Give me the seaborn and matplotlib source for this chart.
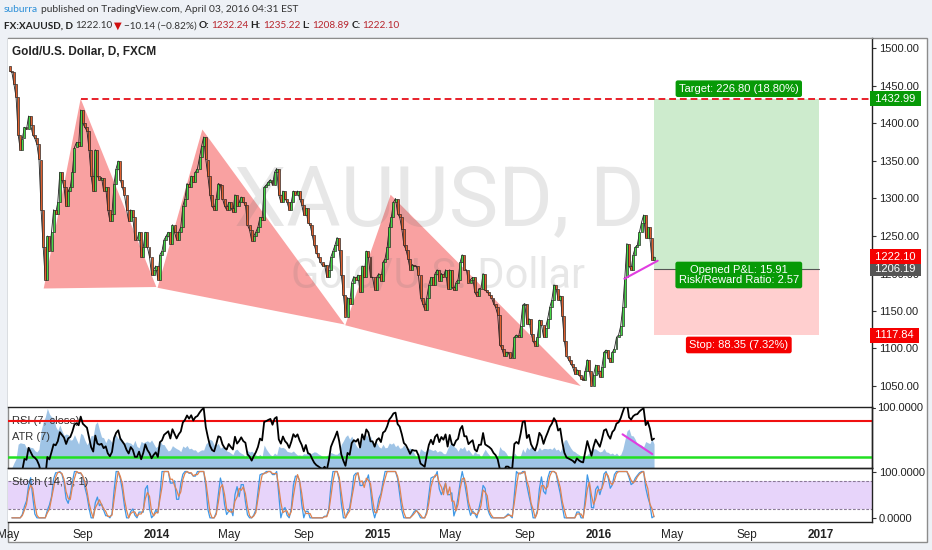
import numpy as np
import pandas as pd
import matplotlib
matplotlib.use('Agg')
import matplotlib.pyplot as plt
import matplotlib.dates as mdates
import matplotlib.transforms as mtransforms
from matplotlib.patches import Rectangle
import seaborn as sns

# half-week closes (May 2013 .. Apr 2016)
close_2013 = [1470, 1468, 1452, 1435, 1385, 1365, 1380, 1395, 1392,
              1410, 1398, 1385, 1380, 1372, 1352, 1285, 1235, 1192,
              1250, 1230, 1255, 1285, 1280, 1295, 1335, 1325, 1315,
              1290, 1310, 1315, 1335, 1368, 1375, 1370, 1418, 1400,
              1395, 1390, 1365, 1330, 1310, 1365, 1330, 1325, 1328,
              1310, 1315, 1285, 1270, 1280, 1320, 1340, 1350, 1325,
              1315, 1305, 1285, 1270, 1285, 1275, 1245, 1245, 1255,
              1222, 1235, 1255, 1235, 1222, 1198, 1205, 1210, 1192]
close_2014 = [1225, 1230, 1245, 1250, 1255, 1240, 1265, 1255, 1245,
              1255, 1262, 1290, 1300, 1320, 1315, 1330, 1322,
              1335, 1340, 1355, 1370, 1382, 1352, 1330, 1305, 1290,
              1285, 1300, 1320, 1318, 1300, 1290, 1285, 1295, 1288,
              1282, 1305, 1290, 1295, 1302, 1295, 1292, 1265, 1258,
              1244, 1250, 1255, 1262, 1275, 1272, 1315, 1318, 1322,
              1325, 1318, 1335, 1340, 1305, 1295, 1310, 1300, 1295,
              1285, 1295, 1310, 1305, 1310, 1300, 1292, 1278, 1287,
              1268, 1265, 1252, 1238, 1228, 1222, 1215, 1210,
              1212, 1195, 1205, 1222, 1230, 1238, 1248, 1232, 1198,
              1172, 1142, 1168, 1160, 1188, 1196, 1192, 1198, 1175,
              1210, 1195, 1230, 1222, 1195, 1195, 1178, 1195, 1200]
close_2015 = [1190, 1215, 1220, 1235, 1262, 1275, 1295, 1300, 1280,
              1275, 1260, 1238, 1232, 1220, 1205, 1212, 1210,
              1210, 1198, 1168, 1160, 1152, 1168, 1185, 1195, 1185,
              1200, 1205, 1190, 1200, 1195, 1205, 1180, 1205, 1182,
              1178, 1188, 1192, 1215, 1225, 1205, 1205, 1188, 1192,
              1195, 1175, 1170, 1180, 1180, 1200, 1178, 1175, 1172,
              1168, 1160, 1155, 1145, 1105, 1100, 1090, 1095, 1095,
              1088, 1088, 1115, 1118, 1115, 1130, 1158, 1160, 1133,
              1140, 1120, 1110, 1104, 1115, 1138, 1132, 1115,
              1128, 1140, 1155, 1165, 1185, 1180, 1165, 1170, 1143,
              1110, 1090, 1085, 1080, 1075, 1066, 1072, 1065, 1060,
              1058, 1070, 1085, 1070, 1050, 1065, 1078, 1070, 1062]
close_2016 = [1075, 1095, 1098, 1088, 1082, 1095, 1100, 1115, 1118,
              1130, 1155, 1195, 1240, 1210, 1205, 1225, 1235,
              1238, 1255, 1268, 1278, 1248, 1262, 1248, 1218, 1222.10]
first_open = 1476
first_day, last_day = '2013-05-03', '2016-04-01'

# drawn shapes (date, price)
pattern_1 = [('2013-06-28', 1180), ('2013-08-28', 1433), ('2013-12-31', 1182)]
pattern_2 = [('2014-01-02', 1181), ('2014-03-17', 1392), ('2014-11-07', 1132)]
pattern_3 = [('2014-11-08', 1131), ('2015-01-22', 1305), ('2015-12-02', 1050)]
target_from = '2013-08-28'
trend_price = [('2016-02-12', 1193), ('2016-04-07', 1217)]
trend_rsi = [('2016-02-09', 55), ('2016-03-29', 33)]

target_price, entry_price, stop_price, last_price = 1432.99, 1206.19, 1117.84, 1222.10
position_start, position_end = '2016-04-01', '2016-12-30'

tick_dates = ['2013-05-01', '2013-09-01', '2014-01-01', '2014-05-01', '2014-09-01',
              '2015-01-01', '2015-05-01', '2015-09-01', '2016-01-01', '2016-05-01',
              '2016-09-01', '2017-01-01']
tick_labels = ['May', 'Sep', '2014', 'May', 'Sep', '2015', 'May', 'Sep', '2016',
               'May', 'Sep', '2017']
price_ticks = [1050, 1100, 1150, 1200, 1250, 1300, 1350, 1400, 1450, 1500]

# ---------------------------------------------------------------
close = close_2013 + close_2014 + close_2015 + close_2016
df = pd.DataFrame({'date': pd.date_range(first_day, last_day, periods=len(close)),
                   'close': close})
df['open'] = df['close'].shift(1).fillna(first_open)
step = (df['date'].iloc[1] - df['date'].iloc[0]).total_seconds() / 86400

# indicators (periods scaled to the half-week sampling)
delta = df['close'].diff()
gain = delta.clip(lower=0).ewm(alpha=1 / 8, adjust=False).mean()
loss = (-delta.clip(upper=0)).ewm(alpha=1 / 8, adjust=False).mean()
df['rsi'] = 100 - 100 / (1 + gain / loss)
df['atr'] = delta.abs().ewm(alpha=1 / 5, adjust=False).mean()
lo = df['close'].rolling(6, min_periods=2).min()
hi = df['close'].rolling(6, min_periods=2).max()
raw_k = 100 * (df['close'] - lo) / (hi - lo)
df['k'] = raw_k.rolling(2, min_periods=1).mean()
df['d'] = raw_k.rolling(3, min_periods=1).mean()

sns.set_style('white')
plt.rcParams['font.family'] = ['Liberation Sans', 'DejaVu Sans']

W, H = 932, 550
fig = plt.figure(figsize=(W / 100, H / 100), dpi=100)
fig.patch.set_facecolor('#eef1f6')


def box(top, bottom, left=8, right=872):
    return [left / W, 1 - bottom / H, (right - left) / W, (bottom - top) / H]


ax = fig.add_axes(box(38, 407))
ax_rsi = fig.add_axes(box(407, 468), sharex=ax)
ax_st = fig.add_axes(box(468, 522), sharex=ax)
fig.add_artist(Rectangle((8 / W, 1 - 542 / H), 919 / W, 504 / H, transform=fig.transFigure,
                         fc='white', ec='#8c8c8c', lw=1, zorder=-5))

d2n = lambda s: mdates.date2num(pd.Timestamp(s))
x0 = d2n('2013-04-30')
x1 = d2n('2017-03-27')

# ---- price panel
ax.set_xlim(x0, x1)
ax.set_ylim(1022, 1514)
for pat in (pattern_1, pattern_2, pattern_3):
    ax.fill([d2n(d) for d, _ in pat], [p for _, p in pat], color='#f9a1a1', lw=0, zorder=1)

ax.fill_between([d2n(position_start), d2n(position_end)], entry_price, target_price,
                color='#cdebcd', lw=0, zorder=1)
ax.fill_between([d2n(position_start), d2n(position_end)], stop_price, entry_price,
                color='#ffcfcf', lw=0, zorder=1)
ax.plot([d2n(position_start), d2n(position_end)], [entry_price] * 2, color='#555', lw=0.8, zorder=2)

ax.text(0.4994, 0.4932, 'XAUUSD, D', transform=ax.transAxes, ha='center', va='baseline',
        fontsize=60, family='Roboto', color=(0.45, 0.45, 0.45, 0.17), zorder=2)
ax.text(0.4983, 0.3225, 'Gold/U.S. Dollar', transform=ax.transAxes, ha='center', va='baseline',
        fontsize=30, family='Roboto', color=(0.45, 0.45, 0.45, 0.17), zorder=2)

# thin dark trace under the bodies stands in for the wicks
ax.plot(df['date'], df['close'], color='#1e1e1e', lw=0.6, zorder=3)
up = df['close'] >= df['open']
for mask, col in ((up, '#45d845'), (~up, '#e0602e')):
    sub = df[mask]
    ax.bar(sub['date'], sub['close'] - sub['open'], bottom=sub['open'], width=step * 0.95,
           color=col, edgecolor='#1e1e1e', linewidth=0.45, zorder=4)

ax.plot([d2n(target_from), x1], [target_price] * 2, color='#e8202a', lw=1.4,
        ls=(0, (3.5, 2)), zorder=5)
ax.plot([d2n(d) for d, _ in trend_price], [p for _, p in trend_price], color='#e03de0', lw=1.5, zorder=5)

ax.text(0.0046, 0.962, 'Gold/U.S. Dollar, D, FXCM', transform=ax.transAxes, fontsize=8.5,
        fontweight='bold', color='#222', va='center')

lab = dict(color='white', fontsize=8, ha='center', va='center', zorder=6)
ax.text(d2n('2016-08-19'), 1446.4, 'Target: 226.80 (18.80%)',
        bbox=dict(boxstyle='round,pad=0.3,rounding_size=0.2', fc='#079a07', ec='none'), **lab)
ax.text(d2n('2016-08-19'), 1198, 'Opened P&L: 15.91\nRisk/Reward Ratio: 2.57', linespacing=1.0,
        bbox=dict(boxstyle='round,pad=0.3,rounding_size=0.2', fc='#079a07', ec='none'), **lab)
ax.text(d2n('2016-08-19'), 1104.7, 'Stop: 88.35 (7.32%)',
        bbox=dict(boxstyle='round,pad=0.3,rounding_size=0.2', fc='#f50000', ec='none'), **lab)

ax.yaxis.tick_right()
ax.set_yticks(price_ticks)
ax.set_yticklabels([f'{p:.2f}' for p in price_ticks])
ax.tick_params(axis='y', length=3, width=0.8, color='#333', labelsize=8, pad=2, labelcolor='#222')
ax.tick_params(axis='x', bottom=False, labelbottom=False)
blend = mtransforms.blended_transform_factory(ax.transAxes, ax.transData)
for price, fc in ((target_price, '#079a07'), (entry_price, '#555555'),
                  (last_price, '#f50000'), (stop_price, '#f50000')):
    ax.text(1.0, price, f' {price:.2f} ', transform=blend, ha='left', va='center', fontsize=8,
            color='white', clip_on=False, zorder=10,
            bbox=dict(boxstyle='square,pad=0.22', fc=fc, ec='none'))

# ---- RSI / ATR panel
ax_atr = ax_rsi.twinx()
ax_atr.fill_between(df['date'], 0, df['atr'], color='#9fc4e6', lw=0)
ax_atr.set_ylim(df['atr'].min() * 0.85, df['atr'].max() * 1.02)
ax_atr.set_yticks([])
ax_rsi.set_zorder(ax_atr.get_zorder() + 1)
ax_rsi.patch.set_visible(False)
ax_rsi.axhline(70, color='#f01010', lw=1.5)
ax_rsi.axhline(30, color='#22e022', lw=1.8)
sns.lineplot(data=df, x='date', y='rsi', ax=ax_rsi, color='black', lw=1.3)
ax_rsi.plot([d2n(d) for d, _ in trend_rsi], [v for _, v in trend_rsi], color='#e03de0', lw=1.5)
ax_rsi.set_ylim(17.4, 85.5)
ax_rsi.set_yticks([])
ax_rsi.set_xlabel('')
ax_rsi.set_ylabel('')
ax_rsi.tick_params(axis='x', bottom=False, labelbottom=False)
ax_rsi.text(0.0046, 0.77, 'RSI (7, close)', transform=ax_rsi.transAxes, fontsize=8, color='#333', va='center', zorder=0)
ax_rsi.text(0.0046, 0.51, 'ATR (7)', transform=ax_rsi.transAxes, fontsize=8, color='#333', va='center', zorder=0)
ax_rsi.text(1.006, 0.98, '100.0000', transform=ax_rsi.transAxes, fontsize=8, color='#222', va='center')
ax_rsi.plot([1.0, 1.004], [0.98, 0.98], transform=ax_rsi.transAxes, color='#333', lw=0.8, clip_on=False)

# ---- Stoch panel
ax_st.axhspan(20, 80, color='#e7d4fa', lw=0)
ax_st.axhline(80, color='#8a7a96', lw=0.8, ls=(0, (2.5, 1.5)))
ax_st.axhline(20, color='#8a7a96', lw=0.8, ls=(0, (2.5, 1.5)))
sns.lineplot(data=df, x='date', y='k', ax=ax_st, color='#3f98e6', lw=0.9)
sns.lineplot(data=df, x='date', y='d', ax=ax_st, color='#e08350', lw=0.9)
ax_st.set_ylim(-9, 107.6)
ax_st.yaxis.tick_right()
ax_st.set_yticks([0, 100])
ax_st.set_yticklabels(['0.0000', '100.0000'])
ax_st.tick_params(axis='y', length=3, width=0.8, color='#333', labelsize=8, pad=2, labelcolor='#222')
ax_st.text(0.0046, 0.74, 'Stoch (14, 3, 1)', transform=ax_st.transAxes, fontsize=8, color='#333', va='center')
ax_st.set_xlabel('')
ax_st.set_ylabel('')
ax_st.set_xticks([d2n(t) for t in tick_dates])
ax_st.set_xticklabels(tick_labels)
for t in ax_st.get_xticklabels():
    if t.get_text().isdigit():
        t.set_fontweight('bold')
ax_st.tick_params(axis='x', length=3, width=0.8, color='#333', labelsize=8.5, pad=2, labelcolor='#222')
ax_st.set_xlim(x0, x1)

for a in (ax, ax_rsi, ax_st, ax_atr):
    for side in ('left', 'top'):
        a.spines[side].set_visible(False)
    for side in ('right', 'bottom'):
        a.spines[side].set_color('#222')
        a.spines[side].set_linewidth(1)
ax.spines['top'].set_visible(True)
ax.spines['top'].set_color('#8c8c8c')

# ---- header
renderer = fig.canvas.get_renderer()


def write_row(parts, x, y, size, gap):
    for text, color, weight in parts:
        t = fig.text(x / W, 1 - y / H, text, color=color, fontweight=weight, fontsize=size,
                     va='center', family=['Lato', 'DejaVu Sans'])
        x += t.get_window_extent(renderer).width + gap


write_row([('suburra', '#2c8fd8', 'normal'),
           ('published on TradingView.com, April 03, 2016 04:31 EST', '#333', 'normal')], 4, 10, 7.4, 2.5)
red = '#b8262e'
write_row([('FX:XAUUSD, D', '#222', 'bold'), ('1222.10', '#333', 'normal'), ('▼', '#d01010', 'normal'),
           ('−10.14 (−0.82%)', '#333', 'normal'), ('O:', '#222', 'bold'), ('1232.24', red, 'normal'),
           ('H:', '#222', 'bold'), ('1235.22', red, 'normal'), ('L:', '#222', 'bold'),
           ('1208.89', red, 'normal'), ('C:', '#222', 'bold'), ('1222.10', red, 'normal')], 4, 26, 7.2, 2)

fig.savefig('out.png', dpi=100, facecolor=fig.get_facecolor())
